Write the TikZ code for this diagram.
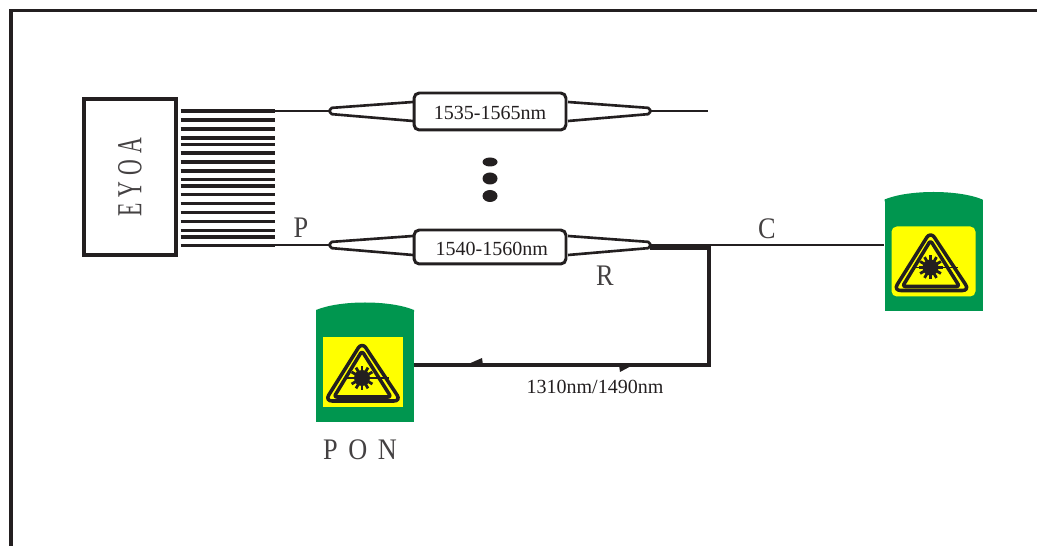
\documentclass[tikz,border=0pt]{standalone}
\usepackage{fontspec}
\setmainfont{Liberation Serif}
\newfontfamily\narrowfont[FakeStretch=.62]{Liberation Serif}
\newfontfamily\tagfont[FakeStretch=.88]{Liberation Serif}
\usetikzlibrary{positioning}
\definecolor{inkline}{HTML}{231F20}
\definecolor{cangreen}{HTML}{00964F}
\definecolor{signyellow}{HTML}{FFFF00}
\tikzset{
    fibre/.style={draw=inkline, line width=1.3pt},
    bundle/.style={draw=inkline, line width=1.8pt},
    taper/.style={draw=inkline, line width=1.5pt, rounded corners=1pt},
    coupler/.style={draw=inkline, line width=1.7pt, rounded corners=3pt, fill=white, minimum width=3.04cm, inner sep=0pt, font=\fontsize{11.4}{12}\selectfont, text=inkline},
    tag/.style={text=inkline!85, inner sep=0pt, font=\fontsize{17}{18}\selectfont\tagfont},
    can/.style={fill=cangreen, minimum width=1.96cm, minimum height=2.24cm, inner sep=0pt},
    pics/lasercan/.style 2 args={code={
        \fill[cangreen] (-49,-56) .. controls (-25,-66) and (25,-66) .. (49,-56) -- (49,-54) -- (-49,-54) -- cycle;
        \fill[signyellow, rounded corners=#2] (-42,-29) rectangle (#1,41);
        \draw[inkline, line width=2pt, rounded corners=4pt, line join=round] (-3,-24) -- (-40,35) -- (36,35) -- cycle;
        \draw[inkline, line width=2pt, rounded corners=1.5pt, line join=round] (-3,-15) -- (-31,31) -- (26,31) -- cycle;
        \draw[inkline, line width=1pt] (-19,12) -- (24,12);
        \fill[inkline] (-3,12) circle (8);
        \foreach \a in {0,30,...,330} \draw[inkline, line width=1.6pt] (-3,12) -- ++(\a:12);
    }},
}

\begin{document}
\begin{tikzpicture}[x=.02cm, y=-.02cm, line cap=butt]
    \useasboundingbox (0,0) rectangle (1037,546);
    % frame
    \draw[inkline, line width=2.1pt] (11,546) -- (11,10.5) -- (1037,10.5);

    % amplifier and its fibres
    \node[draw=inkline, line width=1.8pt, minimum width=1.84cm, minimum height=3.12cm, inner sep=0pt] (eyoa) at (130,177) {};
    \node[rotate=90, text=inkline!85, inner sep=0pt, font=\fontsize{20}{22}\selectfont\narrowfont] (eyoalabel) at (130,177.5) {E\hspace{3.5pt}Y\hspace{3.5pt}O\hspace{3.5pt}A};
    \foreach \y in {111,120,129,138,144.3,153,162,171,179.7,186,194.7,203.7,212.7,221.7,230.7,237,245.7}
        \draw[bundle] (eyoa.east |- 0,\y) ++(3,0) -- ++(94,0);

    % couplers
    \coordinate (fanout) at (273,0);
    \coordinate (topleft) at (330,111);
    \coordinate (topright) at (650,111);
    \coordinate (topend) at (708,111);
    \coordinate (lowleft) at (330,245);
    \coordinate (lowright) at (650,245);
    \node[coupler, minimum height=.74cm] (topcoupler) at (490,111.5) {\raisebox{-4.65pt}[0pt][0pt]{1535-1565nm}};
    \node[coupler, minimum height=.68cm] (lowcoupler) at (490,247) {\hspace*{2pt}\raisebox{-4.9pt}[0pt][0pt]{1540-1560nm}};
    \foreach \tip/\dx in {topleft/83, topright/-82, lowleft/83, lowright/-82}
        \draw[taper] (\tip) ++(\dx,-9) -- ++(-\dx,6) -- ++(0,6) -- ++(\dx,7);
    \draw[fibre] (topleft -| fanout) -- (topleft);
    \draw[fibre] (lowleft -| fanout) -- (lowleft);
    \draw[fibre] (topright) -- (topend);

    % dots
    \fill[inkline] (490,162) ellipse (7.5 and 4.5);
    \fill[inkline] (490,178.5) ellipse (7.5 and 6);
    \fill[inkline] (490,196) ellipse (7.5 and 6);

    % receivers
    \node[can] (pon) at (365,366) {};
    \pic at (pon.center) {lasercan={38}{0pt}};
    \node[can] (onu) at (933.5,255.5) {};
    \pic at (onu.center) {lasercan={42}{3pt}};

    \coordinate (bend) at (709,365);
    \draw[fibre] (lowright) -- (lowright -| onu.west);
    \draw[bundle] (650,248) -| (bend) -- (bend -| pon.east);
    \fill[inkline] (466,365) -- (482,358) -- (483,365) -- cycle;
    \fill[inkline] (633,365) -- (620,372) -- (619,365) -- cycle;

    % labels
    \node[tag] (ptag) at (301,228) {P};
    \node[tag] (ctag) at (767,229) {C};
    \node[tag] (rtag) at (605,276) {R};
    \node[inner sep=0pt, text=inkline, font=\fontsize{11.4}{12}\selectfont] (wavelabel) at (595,387) {1310nm/1490nm};
    \node[tag, below=.34cm of pon, xshift=-.1cm] (pontag) {P\hspace{6pt}O\hspace{6pt}N};
\end{tikzpicture}
\end{document}
